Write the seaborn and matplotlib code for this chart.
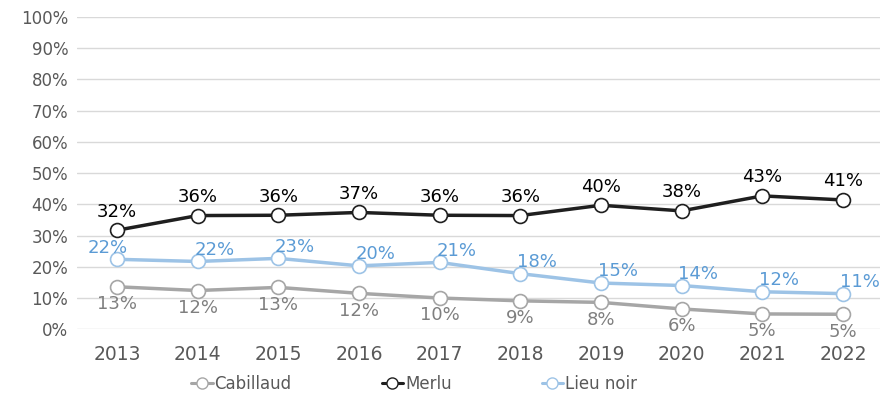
import matplotlib
matplotlib.use("Agg")
import matplotlib.pyplot as plt
import seaborn as sns
import pandas as pd
from matplotlib.ticker import PercentFormatter
from matplotlib.lines import Line2D

years = [2013, 2014, 2015, 2016, 2017, 2018, 2019, 2020, 2021, 2022]
cabillaud = [13.6, 12.4, 13.4, 11.5, 10.0, 9.1, 8.6, 6.5, 4.9, 4.8]
merlu = [31.7, 36.4, 36.5, 37.4, 36.5, 36.4, 39.7, 37.9, 42.7, 41.4]
lieu_noir = [22.4, 21.7, 22.7, 20.3, 21.4, 17.8, 14.8, 14.0, 12.0, 11.4]
cab_labels = ["13%", "12%", "13%", "12%", "10%", "9%", "8%", "6%", "5%", "5%"]
merlu_labels = ["32%", "36%", "36%", "37%", "36%", "36%", "40%", "38%", "43%", "41%"]
lieu_labels = ["22%", "22%", "23%", "20%", "21%", "18%", "15%", "14%", "12%", "11%"]

series_names = ["Cabillaud", "Merlu", "Lieu noir"]
line_colors = {"Cabillaud": "#A6A6A6", "Merlu": "#1F1F1F", "Lieu noir": "#9DC3E6"}
label_colors = {"Cabillaud": "#7F7F7F", "Merlu": "#000000", "Lieu noir": "#5B9BD5"}

df = pd.DataFrame({
    "year": [str(y) for y in years] * 3,
    "value": cabillaud + merlu + lieu_noir,
    "serie": sum([[n] * len(years) for n in series_names], []),
})

sns.set_theme(style="white")
plt.rcParams["font.family"] = ["DejaVu Sans"]

fig, ax = plt.subplots(figsize=(8.81, 4.03), dpi=100)
fig.subplots_adjust(left=0.087, right=0.999, top=0.958, bottom=0.183)

sns.lineplot(data=df, x="year", y="value", hue="serie", palette=line_colors,
             hue_order=series_names, marker="o", markersize=10,
             markerfacecolor="white", linewidth=2.5, ax=ax, legend=False,
             sort=False)
for line, name in zip(ax.get_lines(), series_names):
    line.set_markeredgecolor(line_colors[name])
    line.set_markeredgewidth(1.2)
    line.set_markerfacecolor("white")

fs = 13
for i in range(len(years)):
    ax.annotate(merlu_labels[i], (i, merlu[i]), xytext=(0, 7), textcoords="offset points",
                ha="center", va="bottom", fontsize=fs, color=label_colors["Merlu"])
    dx = -7 if i == 0 else 12
    ax.annotate(lieu_labels[i], (i, lieu_noir[i]), xytext=(dx, 2), textcoords="offset points",
                ha="center", va="bottom", fontsize=fs, color=label_colors["Lieu noir"])
    ax.annotate(cab_labels[i], (i, cabillaud[i]), xytext=(0, -6), textcoords="offset points",
                ha="center", va="top", fontsize=fs, color=label_colors["Cabillaud"])

ax.set_ylim(0, 100)
ax.set_yticks(range(0, 101, 10))
ax.yaxis.set_major_formatter(PercentFormatter(decimals=0))
ax.set_xlim(-0.5, 9.46)
ax.grid(axis="y", color="#D9D9D9", linewidth=1)
ax.set_axisbelow(True)
for s in ax.spines.values():
    s.set_visible(False)
ax.set_xlabel("")
ax.set_ylabel("")
ax.tick_params(axis="y", labelsize=12, colors="#595959", length=0, pad=6)
ax.tick_params(axis="x", labelsize=13.5, colors="#595959", length=0, pad=11)

handles = [Line2D([0], [0], color=line_colors[n], marker="o", markersize=8,
                  markerfacecolor="white", markeredgecolor=line_colors[n],
                  linewidth=2.2) for n in series_names]
leg = fig.legend(handles, series_names, loc="lower center", ncol=3,
                 bbox_to_anchor=(0.47, -0.012), frameon=False, fontsize=12,
                 handlelength=1.3, handletextpad=0.1, columnspacing=5.4)
for t in leg.get_texts():
    t.set_color("#595959")

fig.savefig("out.png", dpi=100)
